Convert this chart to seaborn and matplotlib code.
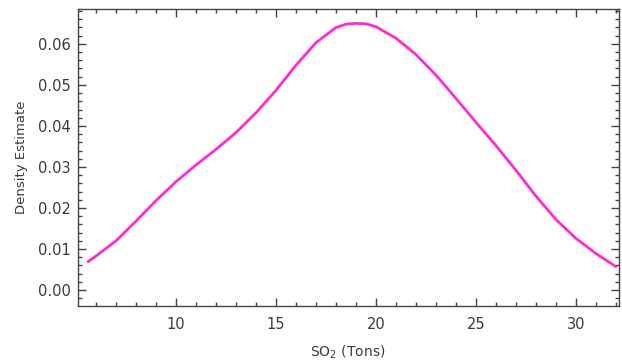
import matplotlib
matplotlib.use("Agg")
import pandas as pd
import seaborn as sns
from matplotlib import pyplot as plt
from matplotlib.ticker import MultipleLocator, FormatStrFormatter

# values
so2 = [5.6, 6, 7, 8, 9, 10, 11, 12, 13, 14, 15, 16, 17, 18, 18.5, 19, 19.5,
       20, 21, 22, 23, 24, 25, 26, 27, 28, 29, 30, 31, 32]
density = [0.0069, 0.0083, 0.0120, 0.0168, 0.0218, 0.0264, 0.0305, 0.0343,
           0.0384, 0.0432, 0.0487, 0.0548, 0.0603, 0.0640, 0.0648, 0.0650,
           0.0649, 0.0642, 0.0614, 0.0574, 0.0524, 0.0467, 0.0409, 0.0352,
           0.0292, 0.0229, 0.0172, 0.0126, 0.0089, 0.0057]

data = pd.DataFrame({"SO2": so2, "Density": density})

sns.set_style("ticks")
plt.rcParams["font.family"] = ["DejaVu Sans"]

fig = plt.figure(figsize=(6.22, 3.61), dpi=100)
ax = fig.add_axes([0.1246, 0.1524, 0.8704, 0.8226])

sns.lineplot(data, x="SO2", y="Density", color="#ff2bd0", linewidth=2.0, ax=ax)

ax.set_xlim(5.07, 32.15)
ax.set_ylim(-0.0039, 0.0685)
ax.xaxis.set_major_locator(MultipleLocator(5))
ax.xaxis.set_minor_locator(MultipleLocator(1))
ax.yaxis.set_major_locator(MultipleLocator(0.01))
ax.yaxis.set_minor_locator(MultipleLocator(0.002))
ax.yaxis.set_major_formatter(FormatStrFormatter("%.2f"))

ax.tick_params(which="both", direction="in", top=True, right=True,
               color="#444444", width=1.0, labelcolor="#3a3a3a",
               labelsize=10.5)
ax.tick_params(which="major", length=6)
ax.tick_params(which="minor", length=3.2)
ax.tick_params(axis="x", which="major", pad=8)
ax.tick_params(axis="y", which="major", pad=5)
for s in ax.spines.values():
    s.set_color("#444444")
    s.set_linewidth(1.0)

ax.set_xlabel("SO$_2$ (Tons)", fontsize=10, color="#3a3a3a", labelpad=8)
ax.set_ylabel("Density Estimate", fontsize=9.5, color="#3a3a3a", labelpad=7)

fig.savefig("out.png", dpi=100)
